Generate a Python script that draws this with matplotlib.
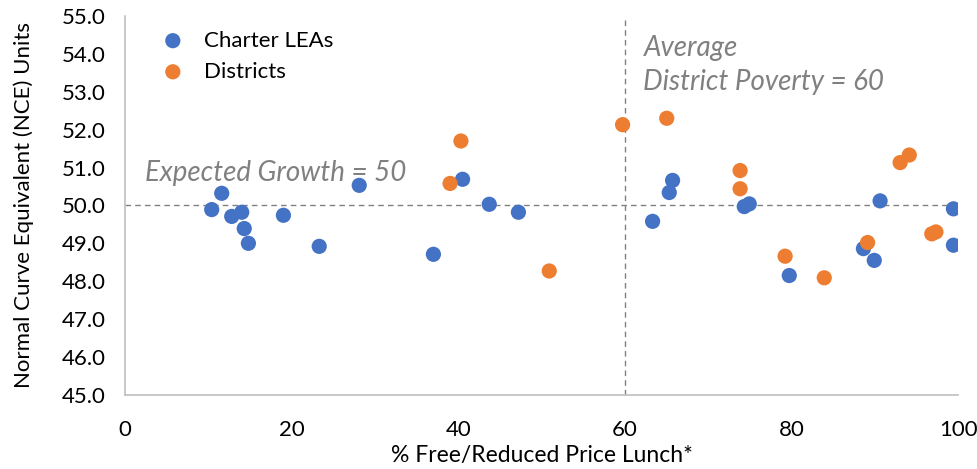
import matplotlib.pyplot as plt

plt.rcParams['font.family'] = ['Lato', 'DejaVu Sans']

# Charter LEAs
charter_frl = [10.4, 11.6, 12.8, 14.0, 14.3, 14.8, 19.0, 23.3, 28.1, 37.0, 40.5, 43.7, 47.2,
               63.3, 65.3, 65.7, 74.3, 74.9, 79.7, 88.6, 89.9, 90.6, 99.4, 99.4]
charter_nce = [49.89, 50.32, 49.71, 49.82, 49.39, 49.00, 49.74, 48.92, 50.53, 48.71, 50.69, 50.03, 49.82,
               49.58, 50.34, 50.66, 49.97, 50.04, 48.15, 48.86, 48.55, 50.12, 49.91, 48.95]

# Districts
district_frl = [39.0, 40.3, 50.9, 59.7, 65.0, 73.8, 73.8, 79.2, 83.9, 89.1, 93.0, 94.1, 96.8, 97.3]
district_nce = [50.58, 51.70, 48.27, 52.13, 52.30, 50.92, 50.44, 48.66, 48.09, 49.02, 51.13, 51.33, 49.25, 49.30]

expected_growth = 50
avg_poverty = 60

blue = '#4472C4'
orange = '#ED7D31'
gray = '#808080'

fig = plt.figure(figsize=(9.77, 4.69), dpi=100)
ax = fig.add_axes([0.128, 0.158, 0.853, 0.808])

ax.axhline(expected_growth, color=gray, lw=1, ls=(0, (4, 3)), zorder=1)
ax.axvline(avg_poverty, color=gray, lw=1, ls=(0, (4, 3)), zorder=1)

ax.scatter(charter_frl, charter_nce, s=120, color=blue, label='Charter LEAs', zorder=3, edgecolors='none')
ax.scatter(district_frl, district_nce, s=120, color=orange, label='Districts', zorder=3, edgecolors='none')

ax.set_xlim(0, 100)
ax.set_ylim(45, 55)
ax.set_xticks(range(0, 101, 20))
ax.set_yticks(range(45, 56))
ax.set_yticklabels([f'{v:.1f}' for v in range(45, 56)])
ax.tick_params(length=0, labelsize=16)
ax.tick_params(axis='x', pad=18)
ax.tick_params(axis='y', pad=14)

for s in ['top', 'right']:
    ax.spines[s].set_visible(False)
for s in ['left', 'bottom']:
    ax.spines[s].set_color('#BFBFBF')
    ax.spines[s].set_linewidth(1.2)

ax.set_xlabel('% Free/Reduced Price Lunch*', fontsize=16.5, labelpad=4)
ax.set_ylabel('Normal Curve Equivalent (NCE) Units', fontsize=16, labelpad=20)

ax.text(2.4, 50.85, 'Expected Growth = 50', fontsize=20, style='italic', color=gray, va='center')
ax.text(62.2, 54.15, 'Average', fontsize=20, style='italic', color=gray, va='center')
ax.text(62.2, 53.25, 'District Poverty = 60', fontsize=20, style='italic', color=gray, va='center')

ax.legend(loc='upper left', bbox_to_anchor=(0.02, 0.985), frameon=False, fontsize=16,
          handletextpad=0.4, labelspacing=0.5, borderaxespad=0)

fig.savefig('out.png', dpi=100)
